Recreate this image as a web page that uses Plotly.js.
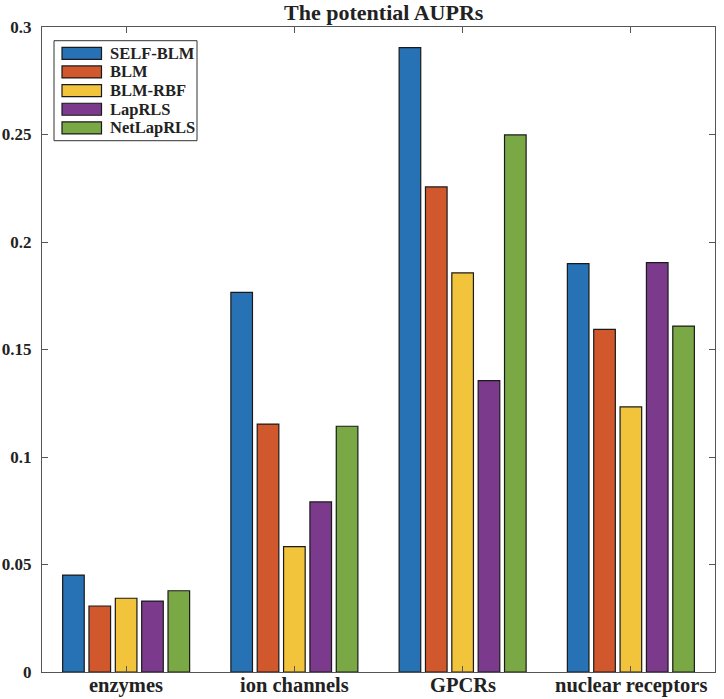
<!DOCTYPE html>
<html>
<head>
<meta charset="utf-8">
<script src="https://cdn.plot.ly/plotly-3.0.1.min.js"></script>
<style>
  html, body { margin: 0; padding: 0; background: #fff; }
  #chart { width: 724px; height: 699px; }
</style>
</head>
<body>
<div id="chart"></div>
<script>
const categories = ['enzymes', 'ion channels', 'GPCRs', 'nuclear receptors'];
const methods = ['SELF-BLM', 'BLM', 'BLM-RBF', 'LapRLS', 'NetLapRLS'];
const selfBlm = [0.0451, 0.1766, 0.2904, 0.1899];
const blm = [0.0307, 0.1153, 0.2256, 0.1594];
const blmRbf = [0.0343, 0.0583, 0.1856, 0.1233];
const lapRls = [0.0330, 0.0791, 0.1355, 0.1904];
const netLapRls = [0.0378, 0.1143, 0.2498, 0.1609];
const yTicks = [0, 0.05, 0.1, 0.15, 0.2, 0.25, 0.3];
const yTickLabels = ['0', '0.05', '0.1', '0.15', '0.2', '0.25', '0.3'];

const seriesValues = [selfBlm, blm, blmRbf, lapRls, netLapRls];
const colors = ['#2672B4', '#D0582C', '#F2C43C', '#7B3A8C', '#7AA845'];

const font = 'Liberation Serif, Times New Roman, serif';

// plot area in pixels: x 42..715, y 27..672
const px = x => (x - 42) / 673;
const py = y => (672 - y) / 645;

const traces = methods.map((name, i) => ({
    x: categories,
    y: seriesValues[i],
    type: 'bar',
    name: name,
    marker: {
        color: colors[i],
        line: { color: '#1a1a1a', width: 1.2 }
    },
    showlegend: false
}));

// legend drawn by hand so the swatches are wide like the original
const shapes = [{
    type: 'rect', xref: 'paper', yref: 'paper',
    x0: px(54), x1: px(197), y0: py(140.7), y1: py(40.7),
    fillcolor: '#fff', line: { color: '#333', width: 1 }
}];
const annotations = [];
methods.forEach((name, i) => {
    const cy = 53.3 + i * 18.65;
    shapes.push({
        type: 'rect', xref: 'paper', yref: 'paper',
        x0: px(62), x1: px(101.5), y0: py(cy + 6), y1: py(cy - 6),
        fillcolor: colors[i], line: { color: '#1a1a1a', width: 1.2 }
    });
    annotations.push({
        xref: 'paper', yref: 'paper', x: px(108), y: py(cy),
        xanchor: 'left', yanchor: 'middle', showarrow: false,
        text: '<b>' + name + '</b>',
        font: { family: font, size: 16.5, color: '#222' }
    });
});

// category labels placed just under the axis (the bottom margin is tight)
categories.forEach(c => {
    annotations.push({
        xref: 'x', yref: 'paper', x: c, y: 0,
        xanchor: 'center', yanchor: 'middle', yshift: -13, showarrow: false,
        text: '<b>' + c + '</b>',
        font: { family: font, size: 20.5, color: '#222' }
    });
});

const layout = {
    width: 724,
    height: 699,
    title: {
        text: '<b>The potential AUPRs</b>',
        font: { family: font, size: 22, color: '#222' },
        x: 0.530,
        xanchor: 'center',
        y: 0.982,
        yanchor: 'middle'
    },
    barmode: 'group',
    bargap: 0.217,
    bargroupgap: 0.18,
    xaxis: {
        type: 'category',
        range: [-0.5, 3.5],
        showline: true,
        linecolor: '#555',
        linewidth: 1,
        mirror: 'ticks',
        ticks: 'inside',
        ticklen: 6,
        tickcolor: '#555',
        showticklabels: false,
        showgrid: false,
        zeroline: false
    },
    yaxis: {
        range: [0, 0.3],
        tickvals: yTicks,
        ticktext: yTickLabels.map(t => '<b>' + t + '</b>'),
        showline: true,
        linecolor: '#555',
        linewidth: 1,
        mirror: 'ticks',
        ticks: 'inside',
        ticklen: 6,
        tickcolor: '#555',
        tickfont: { family: font, size: 17, color: '#222' },
        ticklabelstandoff: 6,
        showgrid: false,
        zeroline: false
    },
    shapes: shapes,
    annotations: annotations,
    showlegend: false,
    margin: { l: 42, r: 9, t: 27, b: 27 },
    paper_bgcolor: '#fff',
    plot_bgcolor: '#fff'
};

Plotly.newPlot('chart', traces, layout, { displayModeBar: false });
</script>
</body>
</html>
